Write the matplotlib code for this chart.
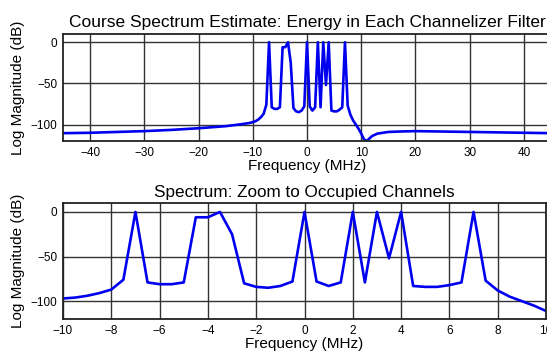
import numpy as np
import matplotlib.pyplot as plt

plt.rcParams['font.family'] = ['Liberation Sans', 'DejaVu Sans']

# channelizer output, 0.5 MHz bins around the occupied channels
freq_zoom = np.arange(-10, 10.5, 0.5)
mag_zoom = [-97, -96, -94, -91, -87, -76, 0, -79, -81, -81,
            -79, -6, -6, 0, -25, -80, -84, -85, -83, -78,
            0, -78, -83, -79, 0, -79, 0, -52, 0, -83,
            -84, -84, -82, -79, 0, -77, -88, -95, -100, -105,
            -111]

# coarse estimate outside the occupied band
freq_low = [-45, -40, -35, -30, -25, -20, -15, -12, -10.5]
mag_low = [-110.5, -110, -109, -108, -106.5, -104.5, -102, -99.5, -98]
freq_high = [10.5, 11, 11.5, 12, 13, 14, 15, 17, 20, 25, 30, 35, 40, 45]
mag_high = [-118, -120, -117, -114, -111, -110, -109, -108.5, -108, -108.5,
            -109, -109.5, -110, -110.5]

freq_full = np.concatenate([freq_low, freq_zoom, freq_high])
mag_full = np.concatenate([mag_low, mag_zoom, mag_high])

line_kw = dict(color='#0000ee', lw=1.9)


def style_axes(ax):
    ax.set_ylim(-120, 10)
    ax.set_yticks([0, -50, -100])
    ax.grid(True, color='#333333', lw=1.0)
    ax.tick_params(labelsize=8.5, length=0, pad=4)
    for s in ax.spines.values():
        s.set_linewidth(1.3)
        s.set_color('#222222')
    ax.set_xlabel('Frequency (MHz)', fontsize=11, labelpad=0)
    ax.set_ylabel('Log Magnitude (dB)', fontsize=11, labelpad=4)


fig = plt.figure(figsize=(5.47, 3.51), dpi=100)

ax1 = fig.add_axes([63 / 547, 1 - 141 / 351, 488 / 547, 107 / 351])
ax1.plot(freq_full, mag_full, **line_kw)
ax1.set_xlim(-45, 45)
ax1.set_xticks(np.arange(-40, 41, 10))
style_axes(ax1)
ax1.set_title('Course Spectrum Estimate: Energy in Each Channelizer Filter',
              fontsize=12.5, pad=5)

ax2 = fig.add_axes([63 / 547, 1 - 319 / 351, 483 / 547, 116 / 351])
ax2.plot(freq_zoom, mag_zoom, **line_kw)
ax2.set_xlim(-10, 10)
ax2.set_xticks(np.arange(-10, 11, 2))
style_axes(ax2)
ax2.set_title('Spectrum: Zoom to Occupied Channels', fontsize=12.3, pad=4)

fig.savefig('out.png', dpi=100)
